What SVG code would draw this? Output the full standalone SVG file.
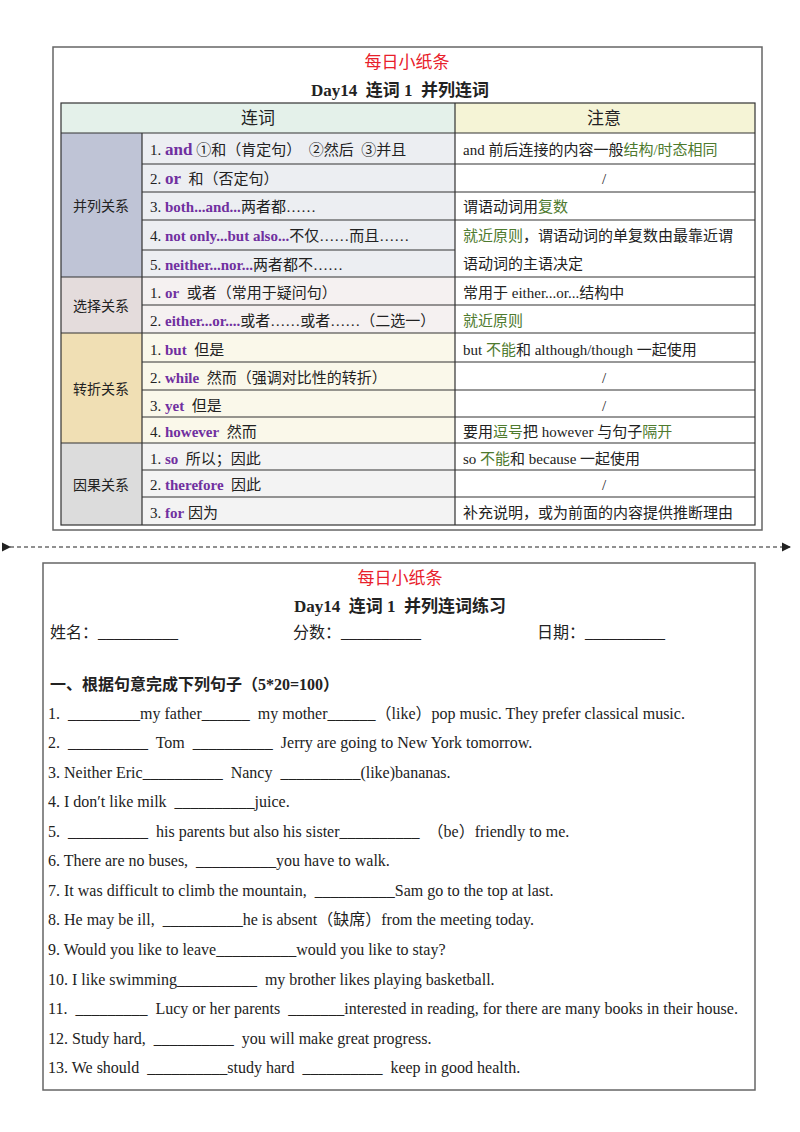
<svg xmlns="http://www.w3.org/2000/svg" width="800" height="1132" viewBox="0 0 800 1132">
<style>
text{font-family:"Liberation Serif","Noto Sans CJK SC",serif;font-size:15px;fill:#222;white-space:pre}
.h{font-family:"Noto Sans CJK SC",sans-serif}
.p{fill:#7030a0;font-weight:bold}
.g{fill:#4e7a2e}
.r{fill:#e8202a;font-size:17px}
.t{font-weight:bold;font-size:17px}
.c{text-anchor:middle}
.s{font-size:16px}
.ln{stroke:#333;stroke-width:1.2;fill:none}
</style>
<defs><marker id="ar" markerWidth="8" markerHeight="8" refX="7" refY="4" orient="auto"><path d="M0,0 L8,4 L0,8 Z" fill="#222"/></marker></defs>
<rect width="800" height="1132" fill="#fff"/>
<g id="top">
<rect x="53" y="47" width="709" height="483" fill="#fff" stroke="#666" stroke-width="1.5"/>
<text x="407" y="68" class="r c">每日小纸条</text>
<text x="400" y="96" class="t c">Day14  连词 1  并列连词</text>
<rect x="61" y="103" width="394" height="30" fill="#e4f1ea"/>
<rect x="455" y="103" width="300" height="30" fill="#f5f4d6"/>
<rect x="61" y="133" width="81" height="144" fill="#bfc4d6"/>
<rect x="142" y="133" width="313" height="144" fill="#eceef2"/>
<rect x="61" y="277" width="81" height="56" fill="#e4dcdc"/>
<rect x="142" y="277" width="313" height="56" fill="#f5f1f1"/>
<rect x="61" y="333" width="81" height="110" fill="#f0dfb4"/>
<rect x="142" y="333" width="313" height="110" fill="#faf8ea"/>
<rect x="61" y="443" width="81" height="82" fill="#dcdcdc"/>
<rect x="142" y="443" width="313" height="82" fill="#f3f3f3"/>
<g class="ln">
<rect x="61" y="103" width="694" height="422"/>
<path d="M455 103V525M142 133V525M61 133H755M142 164H755M142 192H755M142 220H755M142 250H455M61 277H755M142 305H755M61 333H755M142 362H755M142 390H755M142 417H755M61 443H755M142 470H755M142 497H755"/>
</g>
<text x="258" y="124" class="c h" style="font-size:17px">连词</text>
<text x="604" y="124" class="c h" style="font-size:17px">注意</text>
<text x="101" y="211" class="c h" style="font-size:14px">并列关系</text>
<text x="101" y="311" class="c h" style="font-size:14px">选择关系</text>
<text x="101" y="394" class="c h" style="font-size:14px">转折关系</text>
<text x="101" y="490" class="c h" style="font-size:14px">因果关系</text>
<text x="150" y="155">1. <tspan class="p" style="font-size:17px">and</tspan> ①和（肯定句）  ②然后  ③并且</text>
<text x="150" y="184">2. <tspan class="p" style="font-size:17px">or</tspan>  和（否定句）</text>
<text x="150" y="212">3. <tspan class="p">both...and...</tspan>两者都……</text>
<text x="150" y="241">4. <tspan class="p">not only...but also...</tspan>不仅……而且……</text>
<text x="150" y="270">5. <tspan class="p">neither...nor...</tspan>两者都不……</text>
<text x="150" y="298">1. <tspan class="p">or</tspan>  或者（常用于疑问句）</text>
<text x="150" y="326">2. <tspan class="p">either...or....</tspan>或者……或者……（二选一）</text>
<text x="150" y="355">1. <tspan class="p">but</tspan>  但是</text>
<text x="150" y="383">2. <tspan class="p">while</tspan>  然而（强调对比性的转折）</text>
<text x="150" y="411">3. <tspan class="p">yet</tspan>  但是</text>
<text x="150" y="437">4. <tspan class="p">however</tspan>  然而</text>
<text x="150" y="464">1. <tspan class="p">so</tspan>  所以；因此</text>
<text x="150" y="490">2. <tspan class="p">therefore</tspan>  因此</text>
<text x="150" y="518">3. <tspan class="p">for</tspan> 因为</text>
<text x="463" y="155">and 前后连接的内容一般<tspan class="g">结构/时态相同</tspan></text>
<text x="604" y="184" class="c">/</text>
<text x="463" y="212">谓语动词用<tspan class="g">复数</tspan></text>
<text x="463" y="241"><tspan class="g">就近原则</tspan>，谓语动词的单复数由最靠近谓</text>
<text x="463" y="269">语动词的主语决定</text>
<text x="463" y="298">常用于 either...or...结构中</text>
<text x="463" y="326" class="g">就近原则</text>
<text x="463" y="355">but <tspan class="g">不能</tspan>和 although/though 一起使用</text>
<text x="604" y="383" class="c">/</text>
<text x="604" y="411" class="c">/</text>
<text x="463" y="437">要用<tspan class="g">逗号</tspan>把 however 与句子<tspan class="g">隔开</tspan></text>
<text x="463" y="464">so <tspan class="g">不能</tspan>和 because 一起使用</text>
<text x="604" y="490" class="c">/</text>
<text x="463" y="518">补充说明，或为前面的内容提供推断理由</text>
</g>
<g id="connectors">
<path d="M10 547H790" stroke="#222" stroke-width="1.2" stroke-dasharray="4,3" marker-end="url(#ar)" marker-start="url(#ar)" fill="none"/>
</g>
<g id="bottom">
<rect x="43" y="563" width="712" height="527" fill="#fff" stroke="#666" stroke-width="1.5"/>
<text x="400" y="584" class="r c">每日小纸条</text>
<text x="400" y="612" class="t c">Day14  连词 1  并列连词练习</text>
<text x="50" y="638" class="s">姓名：__________</text>
<text x="293" y="638" class="s">分数：__________</text>
<text x="537" y="638" class="s">日期：__________</text>
<text x="50" y="690" style="font-weight:bold;font-size:16px">一、根据句意完成下列句子（5*20=100）</text>
<text x="48" y="719" class="s">1.  _________my father______  my mother______（like）pop music. They prefer classical music.</text>
<text x="48" y="748" class="s">2.  __________  Tom  __________  Jerry are going to New York tomorrow.</text>
<text x="48" y="778" class="s">3. Neither Eric__________  Nancy  __________(like)bananas.</text>
<text x="48" y="807" class="s">4. I don′t like milk  __________juice.</text>
<text x="48" y="837" class="s">5.  __________  his parents but also his sister__________  （be）friendly to me.</text>
<text x="48" y="866" class="s">6. There are no buses,  __________you have to walk.</text>
<text x="48" y="896" class="s">7. It was difficult to climb the mountain,  __________Sam go to the top at last.</text>
<text x="48" y="925" class="s">8. He may be ill,  __________he is absent（缺席）from the meeting today.</text>
<text x="48" y="955" class="s">9. Would you like to leave__________would you like to stay?</text>
<text x="48" y="985" class="s">10. I like swimming__________  my brother likes playing basketball.</text>
<text x="48" y="1014" class="s">11.  _________  Lucy or her parents  _______interested in reading, for there are many books in their house.</text>
<text x="48" y="1044" class="s">12. Study hard,  __________  you will make great progress.</text>
<text x="48" y="1073" class="s">13. We should  __________study hard  __________  keep in good health.</text>
</g>
</svg>
